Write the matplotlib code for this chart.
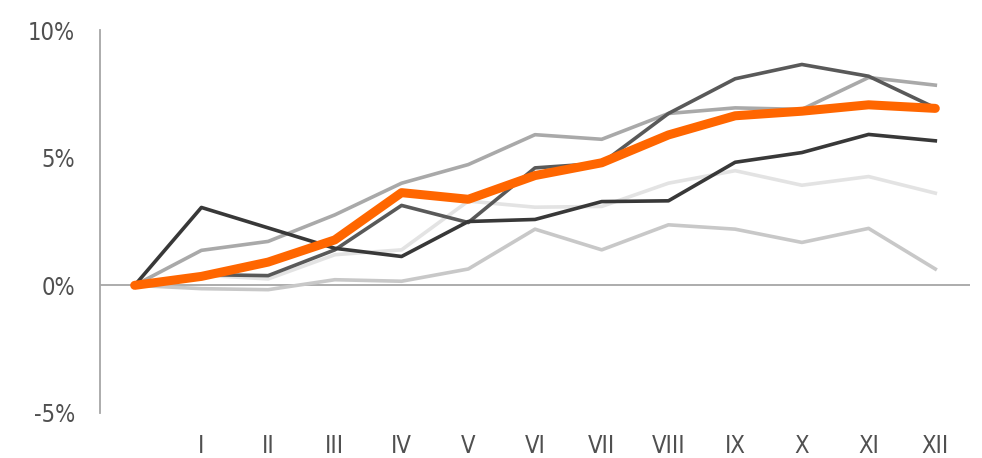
import matplotlib
matplotlib.use("Agg")
import matplotlib.pyplot as plt
from matplotlib import font_manager

months = ["", "I", "II", "III", "IV", "V", "VI", "VII", "VIII", "IX", "X", "XI", "XII"]

s_dark = [0, 3.05, 2.25, 1.45, 1.13, 2.50, 2.58, 3.28, 3.31, 4.82, 5.20, 5.91, 5.66]
s_mid_dark = [0, 0.42, 0.38, 1.39, 3.13, 2.46, 4.60, 4.78, 6.73, 8.09, 8.65, 8.19, 6.95]
s_mid = [0, 1.37, 1.72, 2.76, 4.00, 4.73, 5.90, 5.72, 6.73, 6.95, 6.89, 8.14, 7.84]
s_light = [0, 0.40, 0.25, 1.20, 1.39, 3.30, 3.06, 3.09, 4.00, 4.49, 3.92, 4.26, 3.61]
s_lighter = [0, -0.13, -0.17, 0.22, 0.16, 0.64, 2.20, 1.39, 2.37, 2.20, 1.68, 2.23, 0.64]
s_orange = [0, 0.35, 0.91, 1.78, 3.63, 3.37, 4.30, 4.80, 5.89, 6.64, 6.82, 7.07, 6.93]

yticks = [-5, 0, 5, 10]
ytick_labels = ["-5%", "0%", "5%", "10%"]

# look for a condensed / narrow face among installed fonts
cand = None
for f in font_manager.fontManager.ttflist:
    nm = f.name.lower()
    st = str(f.stretch).lower()
    if ("narrow" in nm or "condensed" in nm or "condensed" in st or st in ("75", "62.5")) and f.style == "normal" and f.weight in (400, "normal", "regular"):
        cand = f.fname
        break

if cand:
    fp = font_manager.FontProperties(fname=cand, size=17)
else:
    fp = font_manager.FontProperties(family="DejaVu Sans", size=15)

fig = plt.figure(figsize=(9.82, 4.58), dpi=100)
ax = fig.add_axes([100/982, 1-413/458, 870/982, 383/458])

x = list(range(len(months)))
ax.axhline(0, color="#a6a6a6", lw=1.3, zorder=1)
ax.plot(x, s_lighter, color="#c8c8c8", lw=2.6, zorder=2)
ax.plot(x, s_light, color="#e3e3e3", lw=2.6, zorder=2)
ax.plot(x, s_mid, color="#a9a9a9", lw=2.6, zorder=2)
ax.plot(x, s_mid_dark, color="#595959", lw=2.6, zorder=3)
ax.plot(x, s_dark, color="#383838", lw=2.6, zorder=3)
ax.plot(x, s_orange, color="#ff6600", lw=6.5, solid_capstyle="round", zorder=4)

ax.set_xlim(-0.52, 12.52)
ax.set_ylim(-5, 10)
ax.set_yticks(yticks)
ax.set_yticklabels(ytick_labels, fontproperties=fp)
ax.set_xticks(x[1:])
ax.set_xticklabels(months[1:], fontproperties=fp)

for s in ["top", "right", "bottom"]:
    ax.spines[s].set_visible(False)
ax.spines["left"].set_color("#a6a6a6")
ax.spines["left"].set_linewidth(1.3)
ax.tick_params(axis="both", length=0, colors="#505050")
ax.tick_params(axis="y", pad=18)
ax.tick_params(axis="x", pad=15)

fig.savefig("out.png", dpi=100)
